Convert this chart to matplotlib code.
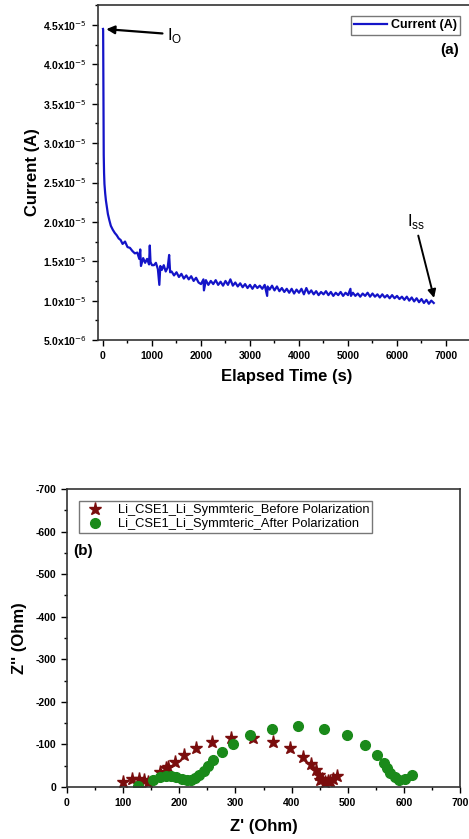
import numpy as np
import matplotlib
matplotlib.use("Agg")
import matplotlib.pyplot as plt
from matplotlib.ticker import MultipleLocator, FuncFormatter

plt.rcParams['font.family'] = ['Liberation Sans', 'DejaVu Sans']
plt.rcParams['axes.unicode_minus'] = False

# (a) chronoamperometry, current in units of 1e-5 A
time_s = [0, 3, 6, 10, 15, 22, 30, 45, 60, 80, 100, 130, 160, 200, 240, 280, 320,
          360, 400, 450, 500, 550, 600, 650, 700, 740, 760, 775, 820, 860, 900,
          940, 955, 970, 1000, 1040, 1080, 1120, 1150, 1170, 1200, 1240, 1280,
          1320, 1350, 1370, 1400, 1450, 1500, 1550, 1600, 1650, 1700, 1750,
          1800, 1850, 1900, 1950, 2000, 2050, 2060, 2100, 2150, 2200, 2250,
          2300, 2350, 2400, 2450, 2500, 2550, 2600, 2650, 2700, 2750, 2800,
          2850, 2900, 2950, 3000, 3050, 3100, 3150, 3200, 3250, 3300, 3350,
          3360, 3400, 3450, 3500, 3550, 3600, 3650, 3700, 3750, 3800, 3850,
          3900, 3950, 4000, 4050, 4100, 4150, 4200, 4250, 4300, 4350, 4400,
          4450, 4500, 4550, 4600, 4650, 4700, 4750, 4800, 4850, 4900, 4950,
          5000, 5050, 5060, 5100, 5150, 5200, 5250, 5300, 5350, 5400, 5450,
          5500, 5550, 5600, 5650, 5700, 5750, 5800, 5850, 5900, 5950, 6000,
          6050, 6100, 6150, 6200, 6250, 6300, 6350, 6400, 6450, 6500, 6550,
          6600, 6650, 6700, 6750]
current_e5 = [4.45, 4.44, 4.05, 3.30, 2.85, 2.62, 2.48, 2.36, 2.27, 2.18, 2.10,
              2.02, 1.95, 1.90, 1.86, 1.83, 1.79, 1.77, 1.72, 1.75, 1.68, 1.67,
              1.63, 1.60, 1.61, 1.53, 1.65, 1.44, 1.54, 1.48, 1.53, 1.46, 1.70,
              1.49, 1.45, 1.45, 1.48, 1.40, 1.20, 1.44, 1.39, 1.45, 1.37, 1.42,
              1.58, 1.36, 1.37, 1.32, 1.36, 1.30, 1.34, 1.28, 1.32, 1.27, 1.31,
              1.25, 1.29, 1.23, 1.21, 1.27, 1.13, 1.26, 1.20, 1.25, 1.21, 1.26,
              1.20, 1.24, 1.19, 1.25, 1.20, 1.27, 1.19, 1.23, 1.18, 1.22, 1.17,
              1.21, 1.16, 1.20, 1.15, 1.20, 1.16, 1.19, 1.15, 1.20, 1.06, 1.18,
              1.14, 1.19, 1.13, 1.18, 1.12, 1.16, 1.11, 1.15, 1.10, 1.15, 1.09,
              1.14, 1.10, 1.15, 1.08, 1.16, 1.09, 1.13, 1.08, 1.12, 1.07, 1.11,
              1.08, 1.12, 1.07, 1.11, 1.06, 1.10, 1.07, 1.11, 1.06, 1.10, 1.07,
              1.15, 1.06, 1.10, 1.06, 1.09, 1.05, 1.09, 1.06, 1.10, 1.05, 1.09,
              1.05, 1.08, 1.04, 1.08, 1.04, 1.07, 1.03, 1.07, 1.03, 1.06, 1.02,
              1.05, 1.01, 1.05, 1.00, 1.04, 0.99, 1.03, 0.98, 1.02, 0.97, 1.01,
              0.96, 1.00, 0.97]

# (b) Nyquist plots
before_zre = [99, 115, 128, 138, 145, 166, 176, 180, 192, 208, 229, 258, 293,
              331, 367, 398, 420, 434, 443, 448, 451, 454, 460, 464, 468, 474, 481]
before_zim = [-12, -18, -19, -16, -11, -36, -44, -47, -59, -75, -92, -106, -116,
              -114, -106, -91, -71, -54, -40, -28, -16, -18, -12, -13, -15, -18, -26]
after_zre = [127, 154, 166, 176, 186, 195, 204, 213, 221, 228, 236, 244, 252,
             260, 276, 296, 326, 365, 412, 458, 499, 531, 552, 565, 570, 576,
             584, 592, 602, 614]
after_zim = [-2, -16, -23, -26, -26, -23, -19, -16, -16, -20, -28, -38, -49,
             -63, -83, -101, -122, -136, -143, -137, -122, -98, -75, -56, -44,
             -34, -23, -16, -18, -28]

W, H = 469, 839
fig = plt.figure(figsize=(W / 100, H / 100), dpi=100)

# ---------- (a) ----------
ax1 = fig.add_axes([97.7 / W, 1 - 340 / H, (476 - 97.7) / W, (340 - 5) / H])
ax1.plot(time_s, np.array(current_e5) * 1e-5, color='#1414c8', lw=1.6,
         label='Current (A)')
ax1.set_xlim(-108, (476 - 103) / 49 * 1000)
ax1.set_ylim(0.5e-5, 4.754e-5)
ax1.xaxis.set_major_locator(MultipleLocator(1000))
ax1.xaxis.set_minor_locator(MultipleLocator(500))
ax1.yaxis.set_major_locator(MultipleLocator(0.5e-5))
ax1.yaxis.set_minor_locator(MultipleLocator(0.25e-5))


def sci_fmt(v, pos):
    if v < 0.99e-5:
        return r'%.1fx10$^{-6}$' % (v * 1e6)
    return r'%.1fx10$^{-5}$' % (v * 1e5)


ax1.yaxis.set_major_formatter(FuncFormatter(sci_fmt))
ax1.set_xlabel('Elapsed Time (s)', fontsize=12, fontweight='bold', labelpad=6)
ax1.set_ylabel('Current (A)', fontsize=12, fontweight='bold', labelpad=2)
ax1.legend(loc='upper right', bbox_to_anchor=(466 / W, 1 - 10 / H),
           bbox_transform=fig.transFigure, frameon=True,
           fancybox=False, edgecolor='#555555', handlelength=2.6,
           borderpad=0.25, handletextpad=0.3, prop={'weight': 'bold', 'size': 9})
ax1.text(450 / W, 1 - 50 / H, '(a)', transform=fig.transFigure, fontsize=11,
         fontweight='bold', ha='center', va='center')
ax1.annotate('', xy=(10, 4.45e-5), xytext=(1270, 4.39e-5),
             arrowprops=dict(arrowstyle='-|>', color='black', lw=1.6,
                             mutation_scale=12))
ax1.text(1310, 4.37e-5, r'I$_\mathregular{O}$', fontsize=12, va='center',
         ha='left')
ax1.annotate('', xy=(6770, 1.0e-5), xytext=(6420, 1.86e-5),
             arrowprops=dict(arrowstyle='-|>', color='black', lw=1.4,
                             mutation_scale=12))
ax1.text(6380, 2.0e-5, r'I$_\mathregular{ss}$', fontsize=12, va='center',
         ha='center')

# ---------- (b) ----------
ax2 = fig.add_axes([67 / W, 1 - 787 / H, (460 - 67) / W, (787 - 489) / H])
ax2.plot(before_zre, before_zim, ls='none', marker='*', ms=9.5, color='#7a0d0d',
         label='Li_CSE1_Li_Symmteric_Before Polarization')
ax2.plot(after_zre, after_zim, ls='none', marker='o', ms=7, color='#1a8a1a',
         label='Li_CSE1_Li_Symmteric_After Polarization')
ax2.set_xlim(0, 700)
ax2.set_ylim(0, -700)
ax2.xaxis.set_major_locator(MultipleLocator(100))
ax2.xaxis.set_minor_locator(MultipleLocator(50))
ax2.yaxis.set_major_locator(MultipleLocator(100))
ax2.yaxis.set_minor_locator(MultipleLocator(50))
ax2.set_xlabel("Z' (Ohm)", fontsize=12, fontweight='bold', labelpad=8)
ax2.set_ylabel("Z'' (Ohm)", fontsize=12, fontweight='bold', labelpad=6)
ax2.legend(loc='upper left', bbox_to_anchor=(73 / W, 1 - 495 / H),
           bbox_transform=fig.transFigure, fontsize=9.3, frameon=True,
           fancybox=False, edgecolor='#555555', borderpad=0.2,
           handletextpad=0.8, labelspacing=0.15)
ax2.text(73 / W, 1 - 551 / H, '(b)', transform=fig.transFigure, fontsize=11,
         fontweight='bold', ha='left', va='center')

for ax in (ax1, ax2):
    ax.tick_params(which='major', direction='out', length=4, width=1,
                   labelsize=7.5, pad=4)
    ax.tick_params(which='minor', direction='out', length=2.5, width=1)
    ax.tick_params(top=False, right=False)
    for lab in ax.get_xticklabels() + ax.get_yticklabels():
        lab.set_fontweight('bold')
    for s in ax.spines.values():
        s.set_color('#333333')
        s.set_linewidth(1.2)

fig.savefig('out.png', dpi=100)
